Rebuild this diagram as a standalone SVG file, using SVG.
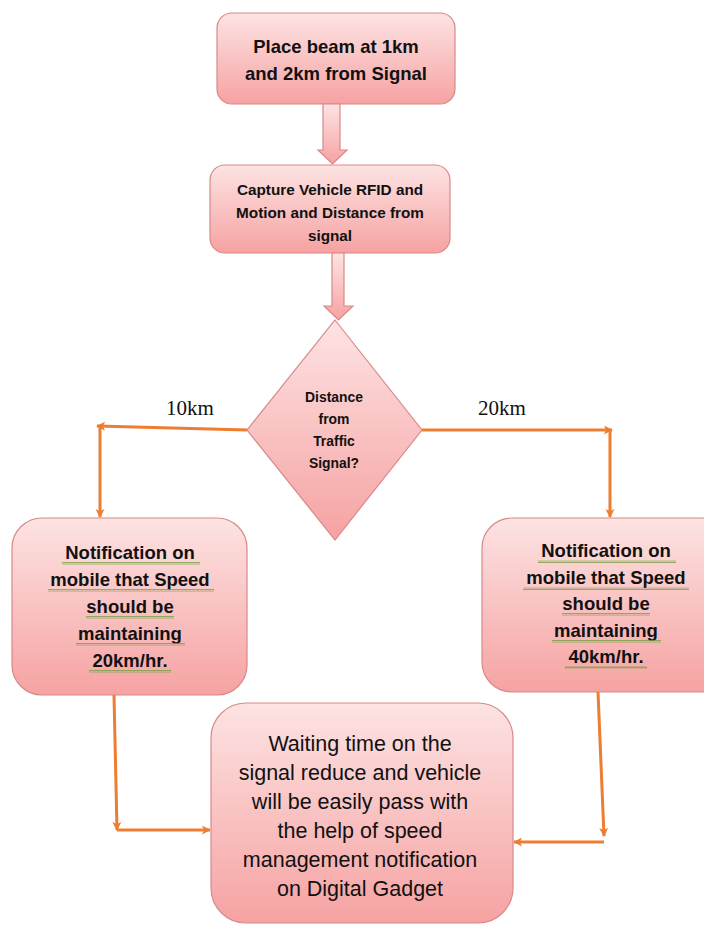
<svg xmlns="http://www.w3.org/2000/svg" width="704" height="926" viewBox="0 0 704 926">
<defs>
<linearGradient id="pink" x1="0" y1="0" x2="0" y2="1">
<stop offset="0" stop-color="#fde3e3"/>
<stop offset="1" stop-color="#f6a2a2"/>
</linearGradient>
<pattern id="wave" width="4" height="3" patternUnits="userSpaceOnUse">
<path d="M0,2.5 L1,0.5 L2,2.5 L3,0.5 L4,2.5" fill="none" stroke="#7aa046" stroke-width="0.8"/>
</pattern>
<marker id="ah" viewBox="0 0 10 10" refX="9" refY="5" markerWidth="10" markerHeight="9" markerUnits="userSpaceOnUse" orient="auto">
<path d="M0,0 L10,5 L0,10 L2.5,5 Z" fill="#ed7d31"/>
</marker>
</defs>
<style>
.box{fill:url(#pink);stroke:#d98888;stroke-width:1.2}
.fat{fill:url(#pink);stroke:#d98888;stroke-width:1.2}
.b{font-family:"Liberation Sans",Arial,sans-serif;font-weight:bold;fill:#111;text-anchor:middle}
.r{font-family:"Liberation Sans",Arial,sans-serif;fill:#111;text-anchor:middle}
.lbl{font-family:"Liberation Serif","Times New Roman",serif;font-size:21px;fill:#111;text-anchor:middle}
.c{fill:none;stroke:#ed7d31;stroke-width:3;marker-end:url(#ah)}
.sq{fill:url(#wave)}
</style>
<rect width="704" height="926" fill="#ffffff"/>

<g id="n1">
<rect class="box" x="217" y="13" width="238" height="91" rx="15"/>
<text class="b" font-size="18.5" x="336" y="53">Place beam at 1km</text>
<text class="b" font-size="18.5" x="336" y="80">and 2km from Signal</text>
</g>

<g id="n2">
<rect class="box" x="210" y="165" width="240" height="88" rx="15"/>
<text class="b" font-size="15.3" x="330" y="195">Capture Vehicle RFID and</text>
<text class="b" font-size="15.3" x="330" y="218">Motion and Distance from</text>
<text class="b" font-size="15.3" x="330" y="241">signal</text>
</g>

<g id="n3">
<path class="box" d="M335,320 L422,430 L335,540 L247,430 Z"/>
<text class="b" font-size="13.9" x="334" y="402">Distance</text>
<text class="b" font-size="13.9" x="334" y="424">from</text>
<text class="b" font-size="13.9" x="334" y="446">Traffic</text>
<text class="b" font-size="13.9" x="334" y="468">Signal?</text>
</g>

<g id="n4">
<rect class="box" x="12" y="518" width="235" height="177" rx="30"/>
<text class="b" font-size="18.5" x="130" y="559">Notification on</text>
<text class="b" font-size="18.5" x="130" y="586">mobile that Speed</text>
<text class="b" font-size="18.5" x="130" y="613">should be</text>
<text class="b" font-size="18.5" x="130" y="640">maintaining</text>
<text class="b" font-size="18.5" x="130" y="667">20km/hr.</text>
<rect class="sq" x="62" y="562" width="138" height="3"/>
<rect class="sq" x="48" y="589" width="166" height="3"/>
<rect class="sq" x="86" y="616" width="88" height="3"/>
<rect class="sq" x="76" y="643" width="109" height="3"/>
<rect class="sq" x="89" y="670" width="82" height="3"/>
</g>

<g id="n5">
<rect class="box" x="482" y="518" width="250" height="174" rx="30"/>
<text class="b" font-size="18.5" x="606" y="557">Notification on</text>
<text class="b" font-size="18.5" x="606" y="584">mobile that Speed</text>
<text class="b" font-size="18.5" x="606" y="610">should be</text>
<text class="b" font-size="18.5" x="606" y="637">maintaining</text>
<text class="b" font-size="18.5" x="606" y="663">40km/hr.</text>
<rect class="sq" x="538" y="560" width="138" height="3"/>
<rect class="sq" x="523" y="587" width="166" height="3"/>
<rect class="sq" x="562" y="613" width="88" height="3"/>
<rect class="sq" x="552" y="640" width="109" height="3"/>
<rect class="sq" x="565" y="666" width="82" height="3"/>
</g>

<g id="n6">
<rect class="box" x="211" y="703" width="302" height="220" rx="35"/>
<text class="r" font-size="21.5" x="360" y="751">Waiting time on the</text>
<text class="r" font-size="21.5" x="360" y="780">signal reduce and vehicle</text>
<text class="r" font-size="21.5" x="360" y="809">will be easily pass with</text>
<text class="r" font-size="21.5" x="360" y="838">the help of speed</text>
<text class="r" font-size="21.5" x="360" y="867">management notification</text>
<text class="r" font-size="21.5" x="360" y="896">on Digital Gadget</text>
</g>

<g id="connectors">
<path class="fat" d="M323,104 L340,104 L340,150 L347,150 L332.5,164 L318,150 L323,150 Z"/>
<path class="fat" d="M332,253 L344,253 L344,306 L353,306 L338.5,320 L324,306 L332,306 Z"/>
<path class="c" d="M247,430 L97,426"/>
<path class="c" d="M100,426 L100,517"/>
<path class="c" d="M422,430 L612,430"/>
<path class="c" d="M610,430 L610,517"/>
<path class="c" d="M114,695 L117,830"/>
<path class="c" d="M117,830 L210,830"/>
<path class="c" d="M598,692 L604,836"/>
<path class="c" d="M604,842 L514,842"/>
<text class="lbl" x="190" y="415">10km</text>
<text class="lbl" x="502" y="415">20km</text>
</g>
</svg>
